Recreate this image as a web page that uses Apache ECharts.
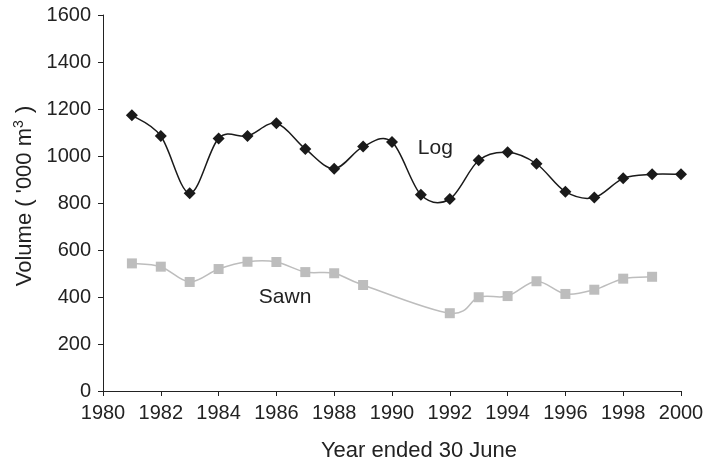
<!DOCTYPE html>
<html>
<head>
<meta charset="utf-8">
<script src="https://cdn.jsdelivr.net/npm/echarts@6/dist/echarts.min.js"></script>
<style>
  html, body { margin: 0; padding: 0; background: #fff; }
  #chart { width: 712px; height: 461px; }
</style>
</head>
<body>
<div id="chart"></div>
<script>
// years ended 30 June
const years = [1981, 1982, 1983, 1984, 1985, 1986, 1987, 1988, 1989, 1990,
               1991, 1992, 1993, 1994, 1995, 1996, 1997, 1998, 1999, 2000]
// log volume ('000 m3)
const logVolume = [1173, 1085, 841, 1075, 1085, 1139, 1030, 946, 1040, 1060,
                   835, 817, 982, 1016, 967, 848, 823, 905, 922, 922]
// sawn volume ('000 m3), no value shown for 1990, 1991, 2000
const sawnVolume = [543, 529, 464, 519, 550, 549, 506, 501, 451, null,
                    null, 331, 399, 404, 467, 413, 431, 478, 486, null]

const FONT = 'Liberation Sans, Arial, sans-serif'
const TEXT_COLOR = '#222'
const FS = 20

const pairs = vals => years.map((y, i) => [y, vals[i]])

// spreadsheet-style smoothed line (Catmull-Rom through the points, may overshoot)
function smoothCurve(vals, color, width) {
  const pts = pairs(vals).filter(p => p[1] != null)
  return {
    type: 'custom',
    data: pts,
    silent: true,
    z: 1,
    renderItem(params, api) {
      const i = params.dataIndex
      if (i >= pts.length - 1) return
      const P = k => api.coord(pts[Math.max(0, Math.min(pts.length - 1, k))])
      const p0 = P(i - 1), p1 = P(i), p2 = P(i + 1), p3 = P(i + 2)
      return {
        type: 'bezierCurve',
        shape: {
          x1: p1[0], y1: p1[1],
          x2: p2[0], y2: p2[1],
          cpx1: p1[0] + (p2[0] - p0[0]) / 6, cpy1: p1[1] + (p2[1] - p0[1]) / 6,
          cpx2: p2[0] - (p3[0] - p1[0]) / 6, cpy2: p2[1] - (p3[1] - p1[1]) / 6,
        },
        style: { stroke: color, lineWidth: width, fill: null },
      }
    },
  }
}

// invisible anchor with a text label, placed in data coordinates
const seriesLabel = (text, coord) => ({
  symbol: 'circle',
  symbolSize: 1,
  itemStyle: { color: 'rgba(0,0,0,0)' },
  label: { show: true, position: 'inside', formatter: text, fontFamily: FONT, fontSize: 21, color: TEXT_COLOR },
  data: [{ coord }],
})

const chart = echarts.init(document.getElementById('chart'))

chart.setOption({
  animation: false,
  grid: { left: 103, right: 31, top: 15, bottom: 70, outerBoundsMode: 'none' },
  xAxis: {
    type: 'value',
    min: 1980, max: 2000, interval: 2,
    name: 'Year ended 30 June',
    nameLocation: 'middle',
    nameGap: 49,
    nameTextStyle: { fontFamily: FONT, fontSize: 22, color: TEXT_COLOR, padding: [0, 0, 0, 54] },
    axisLine: { show: true, onZero: false, lineStyle: { color: '#222', width: 1 } },
    axisTick: { show: true, length: 5, lineStyle: { color: '#222' } },
    axisLabel: { fontFamily: FONT, fontSize: FS, color: TEXT_COLOR, margin: 12, formatter: v => String(v) },
    splitLine: { show: false },
  },
  yAxis: {
    type: 'value',
    min: 0, max: 1600, interval: 200,
    name: "Volume ( '000 m{s|3} )",
    nameLocation: 'middle',
    nameGap: 66,
    nameTextStyle: {
      fontFamily: FONT, fontSize: 22, color: TEXT_COLOR, padding: [0, 0, 0, 14],
      rich: { s: { fontFamily: FONT, fontSize: 14, color: TEXT_COLOR, verticalAlign: 'top', padding: [0, 1, 10, 0] } },
    },
    axisLine: { show: true, lineStyle: { color: '#222', width: 1 } },
    axisTick: { show: true, length: 5, lineStyle: { color: '#222' } },
    axisLabel: { fontFamily: FONT, fontSize: FS, color: TEXT_COLOR, margin: 12, formatter: v => String(v) },
    splitLine: { show: false },
  },
  series: [
    smoothCurve(sawnVolume, '#bdbdbd', 1.5),
    smoothCurve(logVolume, '#1a1a1a', 1.5),
    {
      name: 'Log',
      type: 'line',
      data: pairs(logVolume),
      symbol: 'diamond',
      symbolSize: 12,
      itemStyle: { color: '#1a1a1a' },
      lineStyle: { opacity: 0 },
      markPoint: seriesLabel('Log', [1991.5, 1034]),
      z: 3,
    },
    {
      name: 'Sawn',
      type: 'line',
      data: pairs(sawnVolume),
      symbol: 'rect',
      symbolSize: 10,
      itemStyle: { color: '#bdbdbd' },
      lineStyle: { opacity: 0 },
      markPoint: seriesLabel('Sawn', [1986.3, 400]),
      z: 2,
    },
  ],
})
</script>
</body>
</html>
